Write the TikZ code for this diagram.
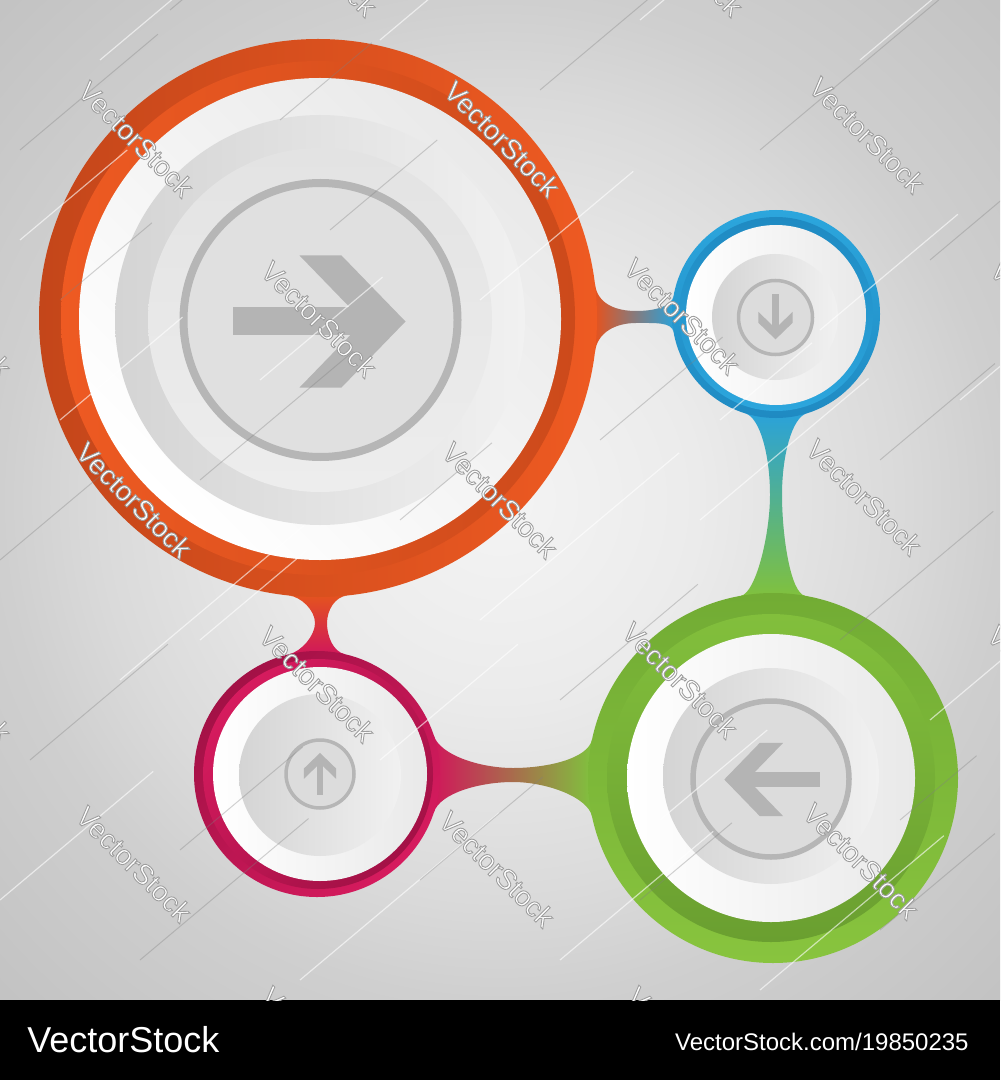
\documentclass[tikz,border=0pt]{standalone}
\usepackage{fontspec}
\setmainfont{Liberation Sans}
\usetikzlibrary{calc}
\pgfdeclarelayer{back}
\pgfdeclarelayer{mid}
\pgfdeclarelayer{front}
\pgfsetlayers{back,mid,main,front}

\definecolor{bgA}{HTML}{F4F4F4}
\definecolor{bgB}{HTML}{EBEBEB}
\definecolor{bgC}{HTML}{DADADA}
\definecolor{bgD}{HTML}{CFCFCF}
\definecolor{bgE}{HTML}{C3C3C3}
\definecolor{orA}{HTML}{C4461A}
\definecolor{orB}{HTML}{EE5A22}
\definecolor{orC}{HTML}{CC4A1B}
\definecolor{orN}{HTML}{E4531F}
\definecolor{blA}{HTML}{2CA6DD}
\definecolor{blB}{HTML}{1F8AC2}
\definecolor{blN}{HTML}{2AA2D9}
\definecolor{grA}{HTML}{72AC34}
\definecolor{grB}{HTML}{88C43E}
\definecolor{grL}{HTML}{82BF3C}
\definecolor{grC}{HTML}{6A9F30}
\definecolor{grN}{HTML}{80C13E}
\definecolor{mgA}{HTML}{A31146}
\definecolor{mgB}{HTML}{D61B5E}
\definecolor{mgN}{HTML}{D0185A}
\definecolor{glyph}{HTML}{B4B4B4}
\definecolor{glyphring}{HTML}{B6B6B6}
\definecolor{faceG}{HTML}{E9E9E9}
\definecolor{discD}{HTML}{D4D4D4}
\definecolor{discL}{HTML}{F1F1F1}
\definecolor{glyphbg}{HTML}{DCDCDC}

\pgfdeclareradialshading{bgrad}{\pgfpoint{0bp}{0bp}}{color(0bp)=(bgA); color(10bp)=(bgB); color(20bp)=(bgC); color(25bp)=(bgD); color(35bp)=(bgE); color(50bp)=(bgE)}

% outlined watermark text: white fill, grey stroke (PDF text render mode 2)
\newcommand\wmword[1]{{\special{pdf:literal direct 0.62 G 0.45 w 2 Tr}#1\special{pdf:literal direct 0 Tr}}}

\tikzset{
  ringnode/.style={circle, inner sep=0pt, outer sep=0pt, minimum size=#1},
  wmtext/.style={font=\fontsize{14}{14}\selectfont, rotate=-45, inner sep=0pt, text=white},
  bglineW/.style={white, opacity=0.6, line width=0.6pt},
  bglineG/.style={black!50, opacity=0.35, line width=0.5pt},
  arrowglyph/.pic={
    \fill[glyph] (-87,-14) rectangle (44,14);
    \fill[glyph] (-20,-66) -- (22,-66) -- (86,0) -- (22,66) -- (-20,66) -- (44,0) -- cycle;
  },
}

\begin{document}
\begin{tikzpicture}[x=0.5pt, y=-0.5pt]
\useasboundingbox (0,0) rectangle (1000,1080);

% ---------- background ----------
\begin{pgfonlayer}{back}
  \shade[shading=bgrad] (0,0) rectangle (1000,1000);
  \fill[black] (0,1000) rectangle (1000,1080);
\end{pgfonlayer}

% ---------- rings (outer discs as named nodes) ----------
\node[ringnode=279pt, left color=orA, right color=orB] (orange) at (318,318) {};
\node[ringnode=104pt, top color=blA, bottom color=blB] (blue) at (776,314) {};
\node[ringnode=123pt, left color=mgA, right color=mgB, shading angle=45] (magenta) at (317,774) {};
\node[ringnode=185pt, top color=grA, bottom color=grB] (green) at (773,778) {};

% ---------- connectors (necks) ----------
\begin{pgfonlayer}{mid}
  % orange -> blue
  \shade[left color=orN, right color=blN]
    (orange.7) .. controls ($(orange.7)+(2.4,20)$) and (616,311) .. (636,311)
    .. controls (656,311) and ($(blue.170)+(-1.7,10)$) .. (blue.170)
    -- (blue.190) .. controls ($(blue.190)+(-1.7,-10)$) and (656,323) .. (636,323)
    .. controls (616,323) and ($(orange.-7)+(2.4,-20)$) .. (orange.-7) -- cycle;
  % blue -> green
  \shade[top color=blN, bottom color=grN]
    (blue.-107) .. controls ($(blue.-107)+(14.3,4.4)$) and (770,455) .. (770,495)
    .. controls (770,535) and ($(green.100)+(14.8,-2.6)$) .. (green.100)
    -- (green.80) .. controls ($(green.80)+(-14.8,-2.6)$) and (782,535) .. (782,495)
    .. controls (782,455) and ($(blue.-73)+(-14.3,4.4)$) .. (blue.-73) -- cycle;
  % orange -> magenta
  \shade[top color=orN, bottom color=mgN]
    (orange.-96) .. controls ($(orange.-96)+(12,1.3)$) and (315,610) .. (315,623)
    .. controls (315,636) and ($(magenta.103)+(11.7,-2.7)$) .. (magenta.103)
    -- (magenta.77) .. controls ($(magenta.77)+(-11.7,-2.7)$) and (327,636) .. (327,623)
    .. controls (327,610) and ($(orange.-84)+(-12,1.3)$) .. (orange.-84) -- cycle;
  % magenta -> green
  \shade[left color=mgN, right color=grN]
    (magenta.18) .. controls ($(magenta.18)+(6.2,19)$) and (480,768) .. (513,768)
    .. controls (546,768) and ($(green.168)+(-4.2,19.6)$) .. (green.168)
    -- (green.192) .. controls ($(green.192)+(-4.2,-19.6)$) and (546,782) .. (513,782)
    .. controls (480,782) and ($(magenta.-18)+(6.2,-19)$) .. (magenta.-18) -- cycle;
\end{pgfonlayer}

% ---------- orange ring contents ----------
\shade[left color=orB, right color=orC] (orange) circle (257);
\shade[top color=faceG, bottom color=white, shading angle=-45] (320,319) circle (241);
\shade[left color=discD, right color=discL] (320,320) circle (205);
\shade[top color=black!11, bottom color=black!7] (320,320) circle (172);
\draw[glyphring, fill=black!12, line width=4pt] (320.5,320) circle (137);
\pic at (319.5,321.5) {arrowglyph};

% ---------- blue ring contents ----------
\shade[top color=blB, bottom color=blA] (blue) circle (97);
\shade[left color=white, right color=faceG] (776,315) circle (90);
\shade[left color=discD, right color=discL] (775,317) circle (63);
\draw[glyphring, fill=glyphbg, line width=1.75pt] (775.5,317.5) circle (37);
\pic[rotate=-90, scale=0.26] at (775.5,317) {arrowglyph};

% ---------- magenta ring contents ----------
\shade[left color=mgB, right color=mgA, shading angle=45] (318,774) circle (115);
\shade[left color=white, right color=faceG] (320,774) circle (107);
\shade[left color=discD, right color=discL] (320,775) circle (81);
\draw[glyphring, fill=glyphbg, line width=1.75pt] (320,774) circle (34);
\pic[rotate=90, scale=0.245] at (320,774) {arrowglyph};

% ---------- green ring contents ----------
\shade[top color=grL, bottom color=grC] (771,778) circle (164);
\shade[left color=white, right color=faceG] (771,778) circle (144);
\shade[left color=discD, right color=discL] (771,776) circle (108);
\draw[glyphring, fill=glyphbg, line width=2.75pt] (771,779) circle (78);
\pic[rotate=180, scale=0.555] at (772,779.5) {arrowglyph};

% ---------- overlay: faint diagonal lines and watermarks ----------
\begin{pgfonlayer}{front}
  \begin{scope}
    \clip (0,0) rectangle (1000,1000);
    \foreach \x/\y/\l in {100/60/220, 380/40/160, 640/20/140, 860/60/160, 820/330/180,
        700/520/220, 480/620/260, 60/420/160, 120/680/240, 0/900/200, 300/980/260,
        560/960/200, 760/990/240, 930/720/120, 660/820/140, 260/380/160, 480/300/200,
        200/640/140, 960/400/100, 20/240/140, 380/760/180, 720/420/120}
      \draw[bglineW] (\x,\y) -- ++({0.766*\l},{-0.643*\l});
    \foreach \x/\y/\l in {20/150/180, 170/10/120, 540/90/200, 760/150/260, 930/260/120,
        880/460/150, 600/440/160, 400/520/120, 200/480/200, 0/560/140, 30/760/180,
        140/960/220, 420/880/160, 640/900/120, 880/930/150, 840/640/200, 560/700/180,
        330/230/140, 60/300/120, 180/850/160, 280/120/120, 900/820/100}
      \draw[bglineG] (\x,\y) -- ++({0.766*\l},{-0.643*\l});
    % whole watermarks
    \foreach \wx/\wy [count=\i] in {136/139, 502/139, 867/135,
        319/319, 682/316,
        134/500, 500/500, 864/497,
        317/684, 680/680,
        134/864, 497/869, 861/861}
      \node[wmtext] (wm\i) at (\wx,\wy) {\wmword{VectorStock}};
    % watermark fragments at the picture's edges (only the visible letters)
    \foreach \wx/\wy [count=\i] in {319/-42, 685/-42, -47/319, -47/684}
      \node[wmtext, anchor=east] (wmt\i) at ({\wx+53.4},{\wy+53.4}) {\wmword{ock}};
    \foreach \wx/\wy [count=\i] in {1048/319, 1045/684, 319/1045, 685/1045}
      \node[wmtext, anchor=west] (wmh\i) at ({\wx-53.4},{\wy-53.4}) {\wmword{Ve}};
  \end{scope}
  \node[anchor=base west, text=white, inner sep=0pt, font=\fontsize{18}{18}\selectfont]
    (brand) at (27,1052) {VectorStock};
  \node[anchor=base east, text=white, inner sep=0pt, font=\fontsize{12}{12}\selectfont]
    (ref) at (969,1050) {VectorStock.com/19850235};
\end{pgfonlayer}
\end{tikzpicture}
\end{document}
